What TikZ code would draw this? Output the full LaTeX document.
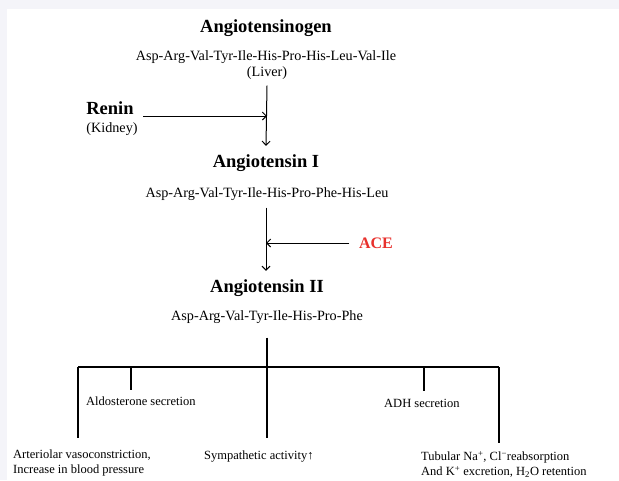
\documentclass[tikz,border=0pt]{standalone}
\usepackage{fontspec}
\setmainfont{Liberation Serif}
\usetikzlibrary{arrows.meta}
\definecolor{acered}{RGB}{232,48,44}
\definecolor{pagegrey}{RGB}{244,244,249}

\begin{document}
\begin{tikzpicture}[x=1pt,y=-1pt,
  >={Straight Barb[length=4pt,width=8pt]},
  title/.style={font=\fontsize{18.5}{20}\selectfont\bfseries, inner sep=0pt},
  seq/.style={font=\fontsize{14.2}{16}\selectfont, inner sep=0pt},
  effect/.style={font=\fontsize{12.5}{15}\selectfont, inner sep=0pt, align=left},
  link/.style={line width=1pt},
  branch/.style={line width=1.2pt}]
  \fill[pagegrey] (0,0) rectangle (619,480);
  \fill[white] (7,9) rectangle (619,480);
  % cascade
  \node[title] (agen) at (266,28) {Angiotensinogen};
  \node[seq] (seqA) at (266,57) {Asp-Arg-Val-Tyr-Ile-His-Pro-His-Leu-Val-Ile};
  \node[seq] (liver) at (267,73) {(Liver)};
  \node[title] (renin) at (110,108) {Renin};
  \node[seq] (kidney) at (112,129) {(Kidney)};
  \node[title] (ang1) at (266,163) {Angiotensin I};
  \node[seq] (seqB) at (267,194) {Asp-Arg-Val-Tyr-Ile-His-Pro-Phe-His-Leu};
  \node[title, font=\fontsize{16}{18}\selectfont\bfseries, text=acered] (ace) at (376,243) {ACE};
  \node[title] (ang2) at (267,288) {Angiotensin II};
  \node[seq] (seqC) at (267,317) {Asp-Arg-Val-Tyr-Ile-His-Pro-Phe};
  \coordinate (cut1) at (267,116);
  \coordinate (cut2) at (266,243);
  \draw[link,->] ([yshift=-6pt]liver.south) -- ([yshift=8.5pt]ang1.north);
  \draw[link,->] ([xshift=9.5pt]renin.east |- cut1) -- (cut1);
  \draw[link,->] ([yshift=-7pt]seqB.south -| cut2) -- ([yshift=8.5pt]ang2.north -| cut2);
  \draw[link,->] ([xshift=-9.5pt]ace.west) -- (cut2);
  % effects
  \coordinate (hub) at (267,367);
  \coordinate (barL) at (78,367);
  \coordinate (barR) at (499,367);
  \node[effect, anchor=west] (aldo) at (86,401) {Aldosterone secretion};
  \node[effect, anchor=west] (adh) at (384,403) {ADH secretion};
  \node[effect, anchor=west] (vaso) at (13,462.5) {Arteriolar vasoconstriction,\\Increase in blood pressure};
  \node[effect, anchor=west] (symp) at (204,457) {Sympathetic activity↑};
  \node[effect, anchor=west] (tub) at (421,464.5) {Tubular Na\textsuperscript{+}, Cl\textsuperscript{−}reabsorption\\And K\textsuperscript{+} excretion, H\textsubscript{2}O retention};
  \draw[branch] ([yshift=-14pt]seqC.south -| hub) -- ([yshift=13pt]symp.north -| hub);
  \draw[branch] (barL) -- (barR);
  \draw[branch] (barL) -- ++(0,71);
  \draw[branch] (barR) -- ++(0,76);
  \draw[branch] (131,367) -- (131,390);
  \draw[branch] (424,367) -- (424,391);
\end{tikzpicture}
\end{document}
